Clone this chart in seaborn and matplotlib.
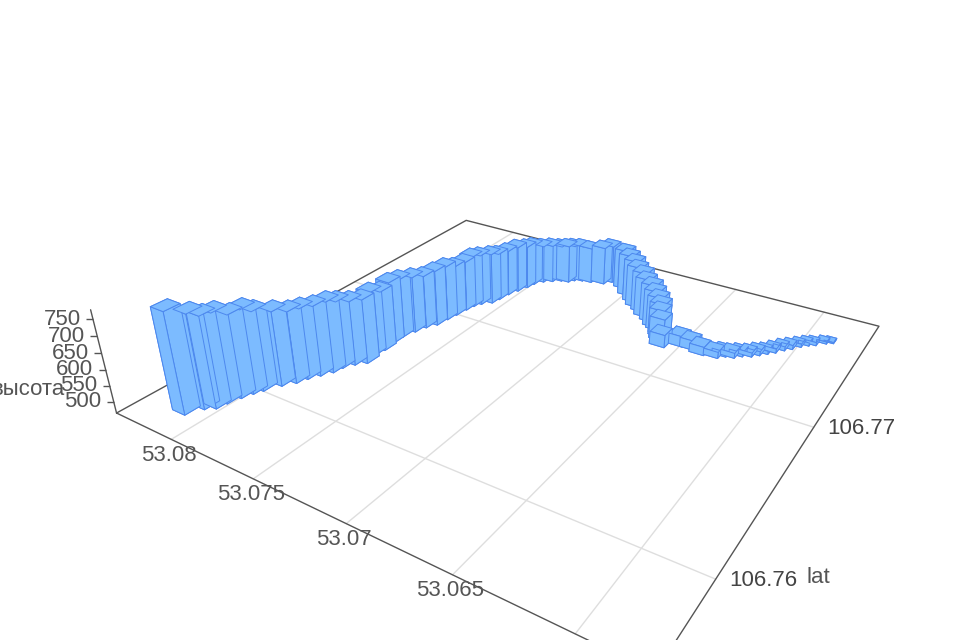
import numpy as np
import pandas as pd
import matplotlib
matplotlib.use('Agg')
import matplotlib.pyplot as plt
from matplotlib.transforms import offset_copy
import seaborn as sns

sns.set_theme(style='white', font='Liberation Sans')
plt.rcParams['font.size'] = 16

# values
lon = [53.0814,53.0810,53.0806,53.0805,53.0803,53.0801,53.0799,53.0795,53.0791,53.0789,53.0786,53.0783,53.0782,53.0779,53.0775,53.0777,53.0776,53.0777,53.0777,53.0775,53.0773,53.0770,53.0769,53.0768,53.0767,53.0766,53.0764,53.0760,53.0759,53.0758,53.0756,53.0754,53.0753,53.0750,53.0746,53.0742,53.0738,53.0736,53.0732,53.0727,53.0720,53.0717,53.0706,53.0700,53.0694,53.0690,53.0685,53.0681,53.0676,53.0672,53.0669,53.0666,53.0665,53.0663,53.0660,53.0652,53.0646,53.0640,53.0633,53.0630,53.0626,53.0623,53.0619,53.0616,53.0613,53.0610,53.0607,53.0604,53.0601,53.0598,53.0595,53.0591,53.0588]
lat = [106.7574,106.7581,106.7584,106.7589,106.7595,106.7600,106.7604,106.7611,106.7616,106.7621,106.7626,106.7631,106.7636,106.7641,106.7645,106.7652,106.7658,106.7665,106.7672,106.7679,106.7685,106.7690,106.7697,106.7703,106.7710,106.7715,106.7719,106.7723,106.7728,106.7735,106.7741,106.7747,106.7752,106.7757,106.7760,106.7763,106.7764,106.7767,106.7769,106.7770,106.7772,106.7776,106.7773,106.7767,106.7762,106.7758,106.7755,106.7751,106.7748,106.7744,106.7742,106.7739,106.7737,106.7734,106.7729,106.7734,106.7734,106.7732,106.7733,106.7736,106.7737,106.7740,106.7742,106.7745,106.7748,106.7751,106.7755,106.7758,106.7762,106.7765,106.7767,106.7771,106.7773]
alt = [777,756,748,744,724,728,714,700,692,690,688,692,680,671,672,671,659,668,659,650,641,649,647,634,632,640,637,637,627,621,622,612,606,595,595,591,595,591,591,588,595,595,601,607,609,604,600,595,591,587,576,568,554,537,505,498,494,491,484,480,480,477,477,477,474,477,477,477,474,474,474,470,467]

lon_ticks = [53.08, 53.075, 53.07, 53.065, 53.06]
lon_labels = ['53.08', '53.075', '53.07', '53.065', '53.06']
lat_ticks = [106.77, 106.76]
lat_labels = ['106.77', '106.76']
alt_ticks = [500, 550, 600, 650, 700, 750]

lon_lim = (53.0837, 53.0571)
lat_lim = (106.7556, 106.7799)
alt_lim = (463.17, 776.80)

df = pd.DataFrame({'lon': lon, 'lat': lat, 'alt': alt})

fig = plt.figure(figsize=(9.6, 6.4), dpi=100)
ax = fig.add_axes([-0.5 + 29.97 / 960, -0.5 - 16.18 / 640, 2, 2], projection='3d')
ax.set_proj_type('persp', focal_length=0.1357)
ax.view_init(28.5041, -57.3137, 0)
ax.set_box_aspect((1, 1.0, 0.1966), zoom=0.6107)
ax.set_xlim(*lon_lim, view_margin=0)
ax.set_ylim(*lat_lim, view_margin=0)
ax.set_zlim(*alt_lim, view_margin=0)
ax.set_axis_off()
ax.computed_zorder = False

grid_col = '#dedede'
axis_col = '#555555'
text_col = '#555555'

for t in lon_ticks:
    ax.plot([t, t], lat_lim, [alt_lim[0]] * 2, color=grid_col, lw=1, zorder=1)
for t in lat_ticks:
    ax.plot(lon_lim, [t, t], [alt_lim[0]] * 2, color=grid_col, lw=1, zorder=1)

# floor outline and the upright axis
x0, x1 = lon_lim
y0, y1 = lat_lim
ax.plot([x0, x1, x1, x0, x0], [y0, y0, y1, y1, y0], [alt_lim[0]] * 5, color=axis_col, lw=1, zorder=2)
ax.plot([x0, x0], [y0, y0], alt_lim, color=axis_col, lw=1, zorder=2)
ax.plot([x0] * 6, [y0] * 6, alt_ticks, ls='none', marker=0, ms=5, mew=1, color=axis_col, zorder=2)

# tail of the track has thinner bars
foot = np.ones(len(df))
foot[-18:] = np.linspace(1.0, 0.6, 18)
dx = 0.00082 * foot
dy = 0.0008 * foot
ax.bar3d(df['lon'] - dx / 2, df['lat'] - dy / 2, alt_lim[0], dx, dy, df['alt'] - alt_lim[0],
         color='#7cbbff', edgecolor='#4d88ee', linewidth=0.7, shade=False, zorder=3)

fs = 16
lon_off = offset_copy(ax.transData, fig=fig, x=-2, y=-16, units='dots')
for t, s in zip(lon_ticks, lon_labels):
    ax.text(t, y0, alt_lim[0], s, transform=lon_off, ha='center', va='center', fontsize=fs, color=text_col, zorder=5)
lat_off = offset_copy(ax.transData, fig=fig, x=48, y=-1, units='dots')
for t, s in zip(lat_ticks, lat_labels):
    ax.text(x1, t, alt_lim[0], s, transform=lat_off, ha='center', va='center', fontsize=fs, color='#444444', zorder=5)
alt_off = offset_copy(ax.transData, fig=fig, x=-31, y=0, units='dots')
for t in alt_ticks:
    ax.text(x0, y0, t, str(t), transform=alt_off, ha='center', va='center', fontsize=fs, color=text_col, zorder=5)

ax.text(x1, 106.76, alt_lim[0], 'lat', transform=offset_copy(ax.transData, fig=fig, x=103, y=2, units='dots'),
        ha='center', va='center', fontsize=fs, color=text_col, zorder=5)
ax.text(x0, y0, 537, 'высота', transform=offset_copy(ax.transData, fig=fig, x=-46, y=0, units='dots'),
        ha='right', va='center', fontsize=fs, color=text_col, zorder=5)

fig.savefig('out.png', dpi=100)
